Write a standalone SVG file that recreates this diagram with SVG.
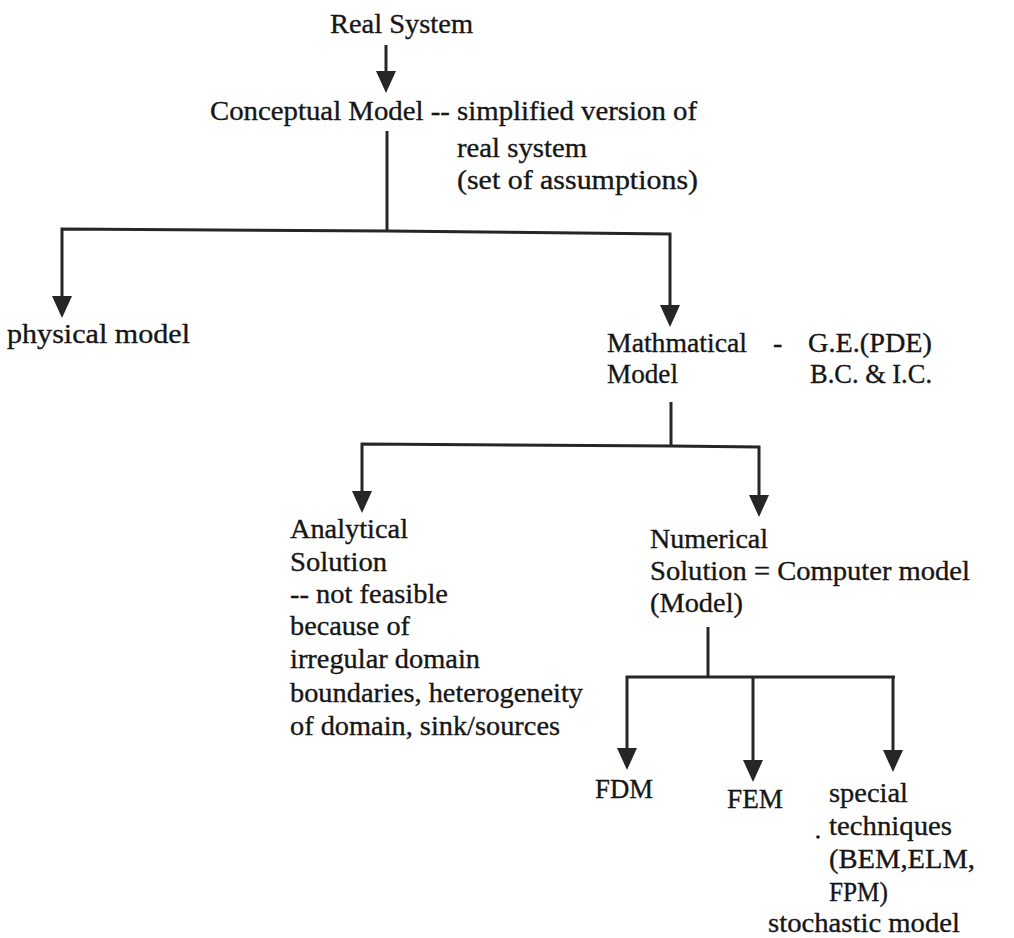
<svg xmlns="http://www.w3.org/2000/svg" width="1014" height="938" viewBox="0 0 1014 938">
<style>
text{font-family:"Liberation Serif","Times New Roman",serif;font-size:28px;fill:#161616;stroke:#161616;stroke-width:0.35}
.c{fill:none;stroke:#262626;stroke-width:3;stroke-linejoin:miter}
</style>
<defs>
<marker id="ah" viewBox="0 0 22 20" refX="12" refY="10" markerWidth="22" markerHeight="20" markerUnits="userSpaceOnUse" orient="auto">
<path d="M0,0 L22,10 L0,20 z" fill="#262626"/>
</marker>
</defs>
<rect width="1014" height="938" fill="#ffffff"/>
<g id="connectors">
<path class="c" d="M386,45 V83" marker-end="url(#ah)"/>
<path class="c" d="M387,131 V231"/>
<path class="c" d="M387,231 L62,229 V308" marker-end="url(#ah)"/>
<path class="c" d="M387,231 L670,234 V317" marker-end="url(#ah)"/>
<path class="c" d="M671,402 V446"/>
<path class="c" d="M671,446 L362,444 V503" marker-end="url(#ah)"/>
<path class="c" d="M671,446 L759,447 V507" marker-end="url(#ah)"/>
<path class="c" d="M708,627 V677"/>
<path class="c" d="M708,677 H627 V760" marker-end="url(#ah)"/>
<path class="c" d="M708,677 H895"/>
<path class="c" d="M753,677 V772" marker-end="url(#ah)"/>
<path class="c" d="M893,677 V762" marker-end="url(#ah)"/>
</g>
<g font-family="Liberation Serif, Times New Roman, serif">
<g id="real-system">
<text x="330" y="33" textLength="143" lengthAdjust="spacingAndGlyphs">Real System</text>
</g>
<g id="conceptual-model">
<text x="210" y="120" textLength="487" lengthAdjust="spacingAndGlyphs">Conceptual Model -- simplified version of</text>
<text x="457" y="157" textLength="130" lengthAdjust="spacingAndGlyphs">real system</text>
<text x="457" y="189" textLength="241" lengthAdjust="spacingAndGlyphs">(set of assumptions)</text>
</g>
<g id="physical-model">
<text x="7" y="343" textLength="183" lengthAdjust="spacingAndGlyphs">physical model</text>
</g>
<g id="mathematical-model">
<text x="607" y="352" textLength="140" lengthAdjust="spacingAndGlyphs">Mathmatical</text>
<text x="773" y="352">-</text>
<text x="808" y="352" textLength="124" lengthAdjust="spacingAndGlyphs">G.E.(PDE)</text>
<text x="607" y="383" textLength="71" lengthAdjust="spacingAndGlyphs">Model</text>
<text x="810" y="383" textLength="122" lengthAdjust="spacingAndGlyphs">B.C. &amp; I.C.</text>
</g>
<g id="analytical-solution">
<text x="290" y="538" textLength="118" lengthAdjust="spacingAndGlyphs">Analytical</text>
<text x="290" y="571" textLength="97" lengthAdjust="spacingAndGlyphs">Solution</text>
<text x="290" y="603" textLength="158" lengthAdjust="spacingAndGlyphs">-- not feasible</text>
<text x="290" y="635" textLength="120" lengthAdjust="spacingAndGlyphs">because of</text>
<text x="290" y="668" textLength="190" lengthAdjust="spacingAndGlyphs">irregular domain</text>
<text x="290" y="702" textLength="293" lengthAdjust="spacingAndGlyphs">boundaries, heterogeneity</text>
<text x="290" y="735" textLength="270" lengthAdjust="spacingAndGlyphs">of domain, sink/sources</text>
</g>
<g id="numerical-solution">
<text x="650" y="548" textLength="118" lengthAdjust="spacingAndGlyphs">Numerical</text>
<text x="650" y="580" textLength="320" lengthAdjust="spacingAndGlyphs">Solution = Computer model</text>
<text x="650" y="612" textLength="93" lengthAdjust="spacingAndGlyphs">(Model)</text>
</g>
<g id="fdm">
<text x="595" y="798" textLength="58" lengthAdjust="spacingAndGlyphs">FDM</text>
</g>
<g id="fem">
<text x="727" y="808" textLength="56" lengthAdjust="spacingAndGlyphs">FEM</text>
</g>
<g id="special-techniques">
<circle cx="818" cy="837" r="1.8" fill="#161616"/>
<text x="829" y="802" textLength="79" lengthAdjust="spacingAndGlyphs">special</text>
<text x="829" y="835" textLength="123" lengthAdjust="spacingAndGlyphs">techniques</text>
<text x="829" y="868" textLength="146" lengthAdjust="spacingAndGlyphs">(BEM,ELM,</text>
<text x="829" y="901" textLength="59" lengthAdjust="spacingAndGlyphs">FPM)</text>
<text x="768" y="932" textLength="192" lengthAdjust="spacingAndGlyphs">stochastic model</text>
</g>
</g>
</svg>
